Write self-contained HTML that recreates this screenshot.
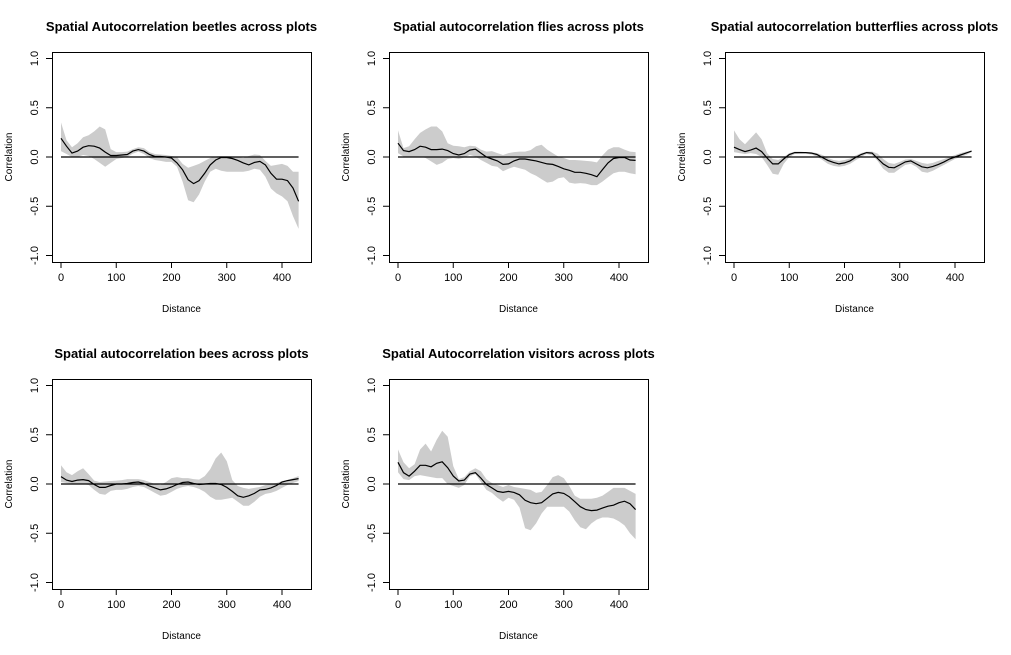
<!DOCTYPE html>
<html><head><meta charset="utf-8"><style>
html,body{margin:0;padding:0;background:#fff;}
svg{display:block;font-family:"Liberation Sans",Arial,sans-serif;}
</style></head><body>
<svg id="chart" width="1011" height="655" viewBox="0 0 1011 655"></svg>
<script>
const distances = [0,10,20,30,40,50,60,70,80,90,100,110,120,130,140,150,160,170,180,190,200,210,220,230,240,250,260,270,280,290,300,310,320,330,340,350,360,370,380,390,400,410,420,430];
const xTicks = [0,100,200,300,400];
const yTicks = [-1,-0.5,0,0.5,1];
const yTickLabels = ["-1.0","-0.5","0.0","0.5","1.0"];
const titles = ["Spatial Autocorrelation beetles across plots","Spatial autocorrelation flies across plots","Spatial autocorrelation butterflies across plots","Spatial autocorrelation bees across plots","Spatial Autocorrelation visitors across plots"];
const panelKeys = ["beetles","flies","butterflies","bees","visitors"];

const beetlesMean = [0.19,0.11,0.04,0.06,0.10,0.115,0.11,0.09,0.05,0.015,0.015,0.02,0.025,0.06,0.075,0.06,0.025,0.005,0.005,0,-0.01,-0.06,-0.13,-0.23,-0.27,-0.24,-0.165,-0.08,-0.03,-0.005,-0.005,-0.015,-0.035,-0.06,-0.08,-0.055,-0.045,-0.08,-0.165,-0.225,-0.225,-0.24,-0.315,-0.45];
const beetlesUpper = [0.35,0.17,0.10,0.14,0.20,0.22,0.26,0.31,0.28,0.08,0.05,0.05,0.055,0.08,0.10,0.09,0.05,0.03,0.025,0.02,0.01,0.0,-0.07,-0.11,-0.09,-0.07,-0.04,-0.01,0.005,0.01,0.01,0.005,0.0,-0.01,0.01,0.025,0.02,-0.04,-0.09,-0.08,-0.07,-0.09,-0.15,-0.15];
const beetlesLower = [0.06,0.03,0.0,0.0,0.02,0.01,-0.02,-0.06,-0.1,-0.06,-0.02,-0.01,0.0,0.035,0.055,0.03,-0.01,-0.03,-0.04,-0.05,-0.05,-0.1,-0.25,-0.44,-0.46,-0.38,-0.25,-0.15,-0.12,-0.14,-0.15,-0.15,-0.15,-0.15,-0.14,-0.12,-0.13,-0.2,-0.32,-0.37,-0.40,-0.45,-0.60,-0.73];

const fliesMean = [0.14,0.065,0.055,0.075,0.11,0.10,0.075,0.075,0.08,0.065,0.035,0.02,0.035,0.07,0.08,0.04,0,-0.02,-0.04,-0.075,-0.07,-0.04,-0.02,-0.02,-0.03,-0.04,-0.055,-0.07,-0.075,-0.095,-0.12,-0.135,-0.155,-0.155,-0.165,-0.18,-0.2,-0.13,-0.06,-0.015,-0.005,-0.005,-0.03,-0.035];
const fliesUpper = [0.27,0.09,0.11,0.18,0.245,0.28,0.31,0.31,0.26,0.14,0.115,0.11,0.10,0.115,0.11,0.075,0.055,0.06,0.04,0.02,0.04,0.05,0.055,0.055,0.07,0.11,0.125,0.075,0.04,0.005,-0.01,-0.03,-0.03,-0.035,-0.04,-0.045,-0.055,0.015,0.075,0.10,0.10,0.075,0.055,0.05];
const fliesLower = [0.04,0.005,0.005,0.005,0.005,-0.01,-0.045,-0.08,-0.06,-0.02,-0.01,-0.02,-0.005,0.02,0.005,-0.03,-0.06,-0.09,-0.1,-0.145,-0.12,-0.1,-0.115,-0.13,-0.165,-0.19,-0.225,-0.26,-0.25,-0.215,-0.205,-0.26,-0.27,-0.265,-0.27,-0.285,-0.285,-0.25,-0.205,-0.165,-0.15,-0.15,-0.165,-0.175];

const butterfliesMean = [0.10,0.075,0.055,0.07,0.09,0.055,-0.01,-0.07,-0.07,-0.02,0.025,0.045,0.045,0.045,0.04,0.025,-0.005,-0.035,-0.055,-0.07,-0.06,-0.04,-0.005,0.025,0.045,0.04,-0.015,-0.07,-0.105,-0.11,-0.08,-0.05,-0.04,-0.07,-0.1,-0.11,-0.095,-0.075,-0.05,-0.02,0,0.02,0.04,0.06];
const butterfliesUpper = [0.27,0.18,0.13,0.19,0.25,0.18,0.04,-0.02,-0.03,0.0,0.04,0.055,0.055,0.05,0.05,0.04,0.02,-0.01,-0.03,-0.04,-0.03,-0.015,0.015,0.04,0.055,0.055,0.035,-0.02,-0.06,-0.07,-0.05,-0.025,-0.02,-0.04,-0.06,-0.07,-0.06,-0.04,-0.02,0.0,0.02,0.04,0.055,0.06];
const butterfliesLower = [0.05,0.04,0.03,0.04,0.03,0.0,-0.08,-0.17,-0.18,-0.07,0.0,0.03,0.035,0.035,0.025,0.005,-0.03,-0.07,-0.09,-0.1,-0.09,-0.07,-0.035,0.0,0.03,0.02,-0.04,-0.12,-0.16,-0.16,-0.12,-0.08,-0.07,-0.1,-0.15,-0.16,-0.14,-0.11,-0.08,-0.05,-0.02,0.0,0.02,0.05];

const beesMean = [0.075,0.04,0.025,0.04,0.045,0.035,-0.005,-0.035,-0.035,-0.015,0,0,0.005,0.015,0.02,0.005,-0.02,-0.04,-0.06,-0.05,-0.03,-0.005,0.015,0.02,0.005,-0.005,0,0.005,0.005,-0.005,-0.035,-0.075,-0.12,-0.135,-0.12,-0.095,-0.06,-0.055,-0.04,-0.015,0.02,0.035,0.045,0.055];
const beesUpper = [0.19,0.12,0.09,0.13,0.16,0.10,0.035,0.02,0.025,0.03,0.035,0.04,0.05,0.05,0.05,0.04,0.02,0.0,-0.01,0.02,0.06,0.07,0.06,0.06,0.05,0.045,0.08,0.15,0.26,0.32,0.23,0.04,-0.02,-0.04,-0.05,-0.04,-0.03,-0.01,0.0,0.01,0.03,0.04,0.06,0.08];
const beesLower = [0.02,0.01,0.005,0.0,0.0,-0.01,-0.06,-0.1,-0.11,-0.07,-0.06,-0.06,-0.05,-0.03,-0.02,-0.03,-0.06,-0.09,-0.12,-0.11,-0.08,-0.05,-0.03,-0.02,-0.03,-0.05,-0.08,-0.13,-0.16,-0.16,-0.15,-0.14,-0.18,-0.22,-0.22,-0.18,-0.13,-0.1,-0.09,-0.07,-0.04,-0.01,0.01,0.03];

const visitorsMean = [0.22,0.115,0.08,0.13,0.19,0.19,0.175,0.21,0.225,0.165,0.08,0.03,0.04,0.1,0.115,0.06,-0.005,-0.04,-0.075,-0.085,-0.075,-0.085,-0.11,-0.165,-0.19,-0.2,-0.19,-0.145,-0.1,-0.085,-0.095,-0.13,-0.18,-0.23,-0.26,-0.27,-0.265,-0.245,-0.225,-0.215,-0.19,-0.175,-0.2,-0.26];
const visitorsUpper = [0.35,0.22,0.16,0.20,0.35,0.41,0.33,0.45,0.54,0.48,0.18,0.05,0.07,0.13,0.16,0.13,0.05,0.01,-0.01,-0.03,-0.01,-0.03,-0.04,-0.05,-0.06,-0.09,-0.08,-0.01,0.07,0.09,0.06,-0.02,-0.12,-0.15,-0.15,-0.15,-0.14,-0.12,-0.08,-0.04,-0.04,-0.04,-0.07,-0.10];
const visitorsLower = [0.12,0.05,0.04,0.08,0.09,0.08,0.07,0.06,0.06,0.0,-0.02,-0.04,-0.01,0.08,0.10,0.02,-0.06,-0.09,-0.14,-0.18,-0.14,-0.16,-0.24,-0.45,-0.47,-0.40,-0.30,-0.23,-0.23,-0.23,-0.23,-0.28,-0.37,-0.44,-0.46,-0.40,-0.36,-0.34,-0.34,-0.35,-0.38,-0.42,-0.50,-0.56];

const means = [beetlesMean,fliesMean,butterfliesMean,beesMean,visitorsMean];
const uppers = [beetlesUpper,fliesUpper,butterfliesUpper,beesUpper,visitorsUpper];
const lowers = [beetlesLower,fliesLower,butterfliesLower,beesLower,visitorsLower];

const NS="http://www.w3.org/2000/svg";
const svg=document.getElementById('chart');
function mk(tag,attrs,parent,text){const e=document.createElementNS(NS,tag);for(const k in attrs)e.setAttribute(k,attrs[k]);if(text!==undefined)e.textContent=text;parent.appendChild(e);return e;}
const offX=[0,337,673,0,337], offY=[0,0,0,327,327];
for(let p=0;p<5;p++){
  const ox=offX[p], oy=offY[p];
  const L=52+ox,R=311+ox,T=52+oy,B=262+oy;
  const xs=v=>61+ox+v*0.5525;
  const ys=v=>157+oy-v*98.5;
  const g=mk('g',{},svg);
  
  
  const t=mk('text',{x:(L+R)/2,y:31+oy,'text-anchor':'middle','font-size':'13','font-weight':'bold',fill:'#000'},g,titles[p]);
  
  
  // band
  let d='M';
  distances.forEach((x,i)=>{d+=(i?' L':'')+xs(x).toFixed(1)+','+ys(uppers[p][i]).toFixed(1);});
  for(let i=distances.length-1;i>=0;i--)d+=' L'+xs(distances[i]).toFixed(1)+','+ys(lowers[p][i]).toFixed(1);
  const band=mk('path',{d:d+'Z',fill:'#cccccc',stroke:'none'},g);
  
  
  const zl=mk('line',{x1:xs(0),x2:xs(distances[distances.length-1]),y1:ys(0),y2:ys(0),stroke:'#000','stroke-width':1.3},g);
  
  
  const pts=distances.map((x,i)=>xs(x).toFixed(1)+','+ys(means[p][i]).toFixed(1)).join(' ');
  const ln=mk('polyline',{points:pts,fill:'none',stroke:'#000','stroke-width':1.2},g);
  
  
  const box=mk('rect',{x:L+0.5,y:T+0.5,width:R-L,height:B-T,fill:'none',stroke:'#000','stroke-width':1},g);
  
  
  xTicks.forEach(v=>{
    mk('line',{x1:xs(v),x2:xs(v),y1:B,y2:B+6,stroke:'#000'},g);
    const tl=mk('text',{x:xs(v),y:B+19,'text-anchor':'middle','font-size':'11',fill:'#000'},g,String(v));
    
    
  });
  yTicks.forEach((v,i)=>{
    mk('line',{x1:L-6,x2:L,y1:ys(v),y2:ys(v),stroke:'#000'},g);
    const yy=ys(v), xx=L-14;
    const tl=mk('text',{x:xx,y:yy,'text-anchor':'middle','font-size':'11',fill:'#000',transform:`rotate(-90 ${xx} ${yy})`},g,yTickLabels[i]);
    
    
  });
  const xt=mk('text',{x:(L+R)/2,y:B+50,'text-anchor':'middle','font-size':'10',fill:'#000'},g,'Distance');
  
  
  const yx=12+ox, yy=157+oy;
  const yt=mk('text',{x:yx,y:yy,'text-anchor':'middle','font-size':'10',fill:'#000',transform:`rotate(-90 ${yx} ${yy})`},g,'Correlation');
  
  
}
</script>
</body></html>
